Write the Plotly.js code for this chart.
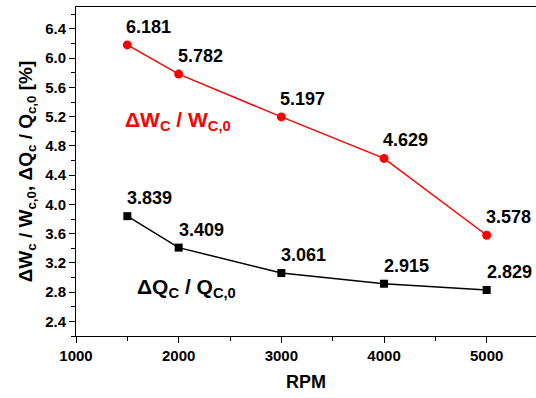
<!DOCTYPE html>
<html><head><meta charset="utf-8">
<script src="https://cdn.plot.ly/plotly-3.0.1.min.js"></script>
<style>body{margin:0;padding:0;background:#fff}#chart{width:536px;height:398px}</style>
</head><body><div id="chart"></div>
<script>
const rpm = [1500, 2000, 3000, 4000, 5000];
const dW = [6.181, 5.782, 5.197, 4.629, 3.578];
const dQ = [3.839, 3.409, 3.061, 2.915, 2.829];
const dWLabels = ['6.181', '5.782', '5.197', '4.629', '3.578'];
const dQLabels = ['3.839', '3.409', '3.061', '2.915', '2.829'];
const xTicks = [1000, 2000, 3000, 4000, 5000];
const yTicks = [2.4, 2.8, 3.2, 3.6, 4.0, 4.4, 4.8, 5.2, 5.6, 6.0, 6.4];

const F = 'Arial, "Liberation Sans", sans-serif';
const traces = [
  {x: rpm, y: dW, mode: 'lines+markers', line: {color: '#ff0000', width: 1.5},
   marker: {symbol: 'circle', size: 9, color: '#ff0000'}, showlegend: false},
  {x: rpm, y: dQ, mode: 'lines+markers', line: {color: '#000000', width: 1.5},
   marker: {symbol: 'square', size: 8, color: '#000000'}, showlegend: false}
];
const ann = [];
rpm.forEach((r, i) => {
  ann.push({x: r, y: dW[i], text: '<b>' + dWLabels[i] + '</b>', showarrow: false, xanchor: 'left', yanchor: 'middle', xshift: -3, yshift: 18, font: {family: F, size: 18, color: '#000'}});
  ann.push({x: r, y: dQ[i], text: '<b>' + dQLabels[i] + '</b>', showarrow: false, xanchor: 'left', yanchor: 'middle', xshift: -2, yshift: 18, font: {family: F, size: 18, color: '#000'}});
});
ann.push({xref: 'paper', yref: 'paper', x: (123 - 76) / 460, y: (336 - 121) / 329, xanchor: 'left', yanchor: 'middle', showarrow: false,
  text: '<b>ΔW<sub>C</sub> / W<sub>C,0</sub></b>', font: {family: F, size: 21, color: '#ff0000'}});
ann.push({xref: 'paper', yref: 'paper', x: (135 - 76) / 460, y: (336 - 288) / 329, xanchor: 'left', yanchor: 'middle', showarrow: false,
  text: '<b>ΔQ<sub>C</sub> / Q<sub>C,0</sub></b>', font: {family: F, size: 21, color: '#000'}});

const layout = {
  width: 536, height: 398,
  margin: {l: 76, r: 0, t: 7, b: 62},
  paper_bgcolor: '#fff', plot_bgcolor: '#fff',
  font: {family: F, color: '#000'},
  xaxis: {range: [1000, 5480], tickmode: 'array', tickvals: xTicks,
    ticktext: xTicks.map(v => '<b>' + v + '</b>'),
    ticks: 'outside', ticklen: 6, tickwidth: 1, tickcolor: '#000',
    minor: {dtick: 500, ticks: 'outside', ticklen: 4, tickcolor: '#000'},
    showline: true, mirror: true, linecolor: '#000', linewidth: 1, showgrid: false, zeroline: false,
    tickfont: {family: F, size: 15, color: '#000'},
    title: {text: '<b>RPM</b>', font: {family: F, size: 18, color: '#000'}, standoff: 12}},
  yaxis: {range: [2.2, 6.7], tickmode: 'array', tickvals: yTicks,
    ticktext: yTicks.map(v => '<b>' + v.toFixed(1) + '</b>'),
    ticks: 'outside', ticklen: 6, tickwidth: 1, tickcolor: '#000',
    minor: {tick0: 2.2, dtick: 0.2, ticks: 'outside', ticklen: 4, tickcolor: '#000'},
    showline: true, mirror: true, linecolor: '#000', linewidth: 1, showgrid: false, zeroline: false,
    tickfont: {family: F, size: 15, color: '#000'},
    title: {text: '<b>ΔW<sub>c</sub> / W<sub>c,0</sub>, ΔQ<sub>c</sub> / Q<sub>c,0</sub> [%]</b>', font: {family: F, size: 19, color: '#000'}, standoff: 7}},
  annotations: ann
};
Plotly.newPlot('chart', traces, layout, {displayModeBar: false, staticPlot: true});
</script></body></html>
